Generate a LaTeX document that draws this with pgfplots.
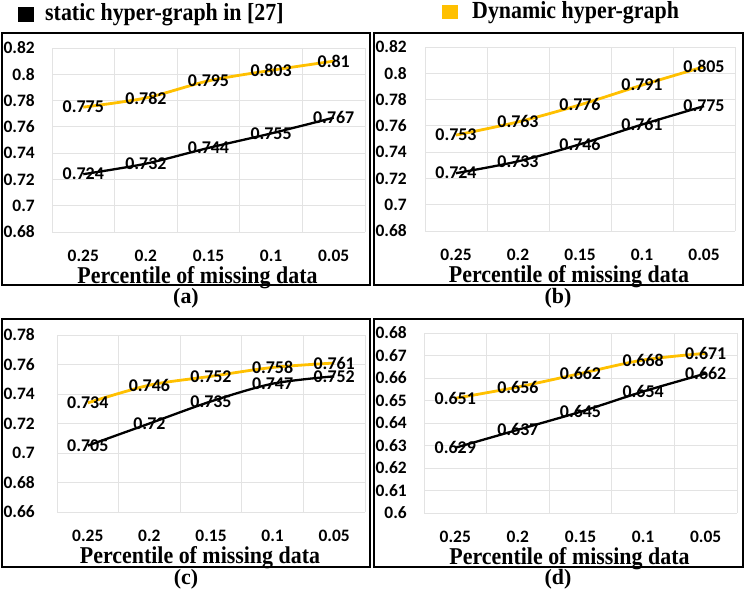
\documentclass[border=0pt]{standalone}
\usepackage{pgfplots}
\pgfplotsset{compat=1.18}
\usepackage{fontspec}
\setmainfont{Liberation Serif}
\newfontfamily\calib{Carlito}
\definecolor{gold}{HTML}{FFC000}
\definecolor{gridc}{HTML}{E3E3E3}

\pgfplotsset{
 panel/.style={
  scale only axis,
  xmin=-0.5, xmax=4.5,
  xtick={0,1,2,3,4}, xticklabels={0.25,0.2,0.15,0.1,0.05},
  minor xtick={-0.5,0.5,1.5,2.5,3.5,4.5},
  xminorgrids, ymajorgrids,
  grid style={gridc, line width=0.8bp},
  minor grid style={gridc, line width=0.8bp},
  axis line style={draw=none},
  major tick length=0pt, minor tick length=0pt,
  tick style={draw=none},
  /pgf/number format/assume math mode=true,
  scaled y ticks=false,
  ticklabel style={font=\calib\bfseries\fontsize{17.5}{17.5}\selectfont, inner sep=0pt},
  yticklabel style={anchor=east},
  xticklabel style={anchor=center},
  xticklabel shift=24bp,
  xlabel={\scalebox{1}[1.1]{\bfseries Percentile of missing data}},
  xlabel style={font=\fontsize{22}{22}\selectfont, at={(axis description cs:0.5,0)}, anchor=center, xshift=-11bp, yshift=-46bp},
  nodes near coords, point meta=explicit symbolic,
  every node near coord/.append style={anchor=center, font=\calib\bfseries\fontsize{18}{18}\selectfont, text=black, inner sep=0pt},
 },
 gline/.style={gold, line width=2.8bp, smooth, no markers},
 kline/.style={black, line width=2.3bp, smooth, no markers},
}

\begin{document}
\begin{tikzpicture}
\path[use as bounding box] (0,0) rectangle (745bp,-600bp);

% legend
\fill[black] (18bp,-7bp) rectangle (34bp,-22bp);
\node[anchor=base west, inner sep=0pt, font=\bfseries\fontsize{22}{22}\selectfont] at (45bp,-21bp) {\scalebox{1}[1.12]{static hyper-graph in [27]}};
\fill[gold] (442bp,-5bp) rectangle (458bp,-19bp);
\node[anchor=base west, inner sep=0pt, font=\bfseries\fontsize{22}{22}\selectfont] at (472bp,-18.5bp) {\scalebox{1}[1.12]{Dynamic hyper-graph}};

% boxes
\draw[line width=2.5bp] (2bp,-33bp) rectangle (370bp,-285bp);
\draw[line width=2.5bp] (374bp,-33bp) rectangle (743bp,-285bp);
\draw[line width=2.5bp] (2bp,-319bp) rectangle (370bp,-567bp);
\draw[line width=2.5bp] (374bp,-319bp) rectangle (743bp,-567bp);

% panel labels
\node[font=\bfseries\fontsize{22}{22}\selectfont] at (186bp,-298bp) {(a)};
\node[font=\bfseries\fontsize{22}{22}\selectfont] at (558bp,-298bp) {(b)};
\node[font=\bfseries\fontsize{22}{22}\selectfont] at (186bp,-579bp) {(c)};
\node[font=\bfseries\fontsize{22}{22}\selectfont] at (558bp,-579bp) {(d)};

% (a)
\begin{axis}[panel, at={(52bp,-232bp)}, anchor=south west, width=313bp, height=184bp,
  ymin=0.68, ymax=0.82, ytick={0.68,0.70,0.72,0.74,0.76,0.78,0.80,0.82}, yticklabel shift=17bp]
\addplot[gline] coordinates {(0,0.775) [0.775] (1,0.782) [0.782] (2,0.795) [0.795] (3,0.803) [0.803] (4,0.81) [0.81]};
\addplot[kline] coordinates {(0,0.724) [0.724] (1,0.732) [0.732] (2,0.744) [0.744] (3,0.755) [0.755] (4,0.767) [0.767]};
\end{axis}

% (b)
\begin{axis}[panel, at={(425bp,-231bp)}, anchor=south west, width=310bp, height=184bp,
  ymin=0.68, ymax=0.82, ytick={0.68,0.70,0.72,0.74,0.76,0.78,0.80,0.82}, yticklabel shift=18bp]
\addplot[gline] coordinates {(0,0.753) [0.753] (1,0.763) [0.763] (2,0.776) [0.776] (3,0.791) [0.791] (4,0.805) [0.805]};
\addplot[kline] coordinates {(0,0.724) [0.724] (1,0.733) [0.733] (2,0.746) [0.746] (3,0.761) [0.761] (4,0.775) [0.775]};
\end{axis}

% (c)
\begin{axis}[panel, at={(57bp,-512bp)}, anchor=south west, width=308bp, height=177bp,
  ymin=0.66, ymax=0.78, ytick={0.66,0.68,0.70,0.72,0.74,0.76,0.78}, yticklabel shift=22bp]
\addplot[gline] coordinates {(0,0.734) [0.734] (1,0.746) [0.746] (2,0.752) [0.752] (3,0.758) [0.758] (4,0.761) [0.761]};
\addplot[kline] coordinates {(0,0.705) [0.705] (1,0.72) [0.72] (2,0.735) [0.735] (3,0.747) [0.747] (4,0.752) [0.752]};
\end{axis}

% (d)
\begin{axis}[panel, at={(424bp,-513bp)}, anchor=south west, width=313bp, height=180bp,
  ymin=0.60, ymax=0.68, ytick={0.60,0.61,0.62,0.63,0.64,0.65,0.66,0.67,0.68}, yticklabel shift=17bp]
\addplot[gline] coordinates {(0,0.651) [0.651] (1,0.656) [0.656] (2,0.662) [0.662] (3,0.668) [0.668] (4,0.671) [0.671]};
\addplot[kline] coordinates {(0,0.629) [0.629] (1,0.637) [0.637] (2,0.645) [0.645] (3,0.654) [0.654] (4,0.662) [0.662]};
\end{axis}
\end{tikzpicture}
\end{document}
